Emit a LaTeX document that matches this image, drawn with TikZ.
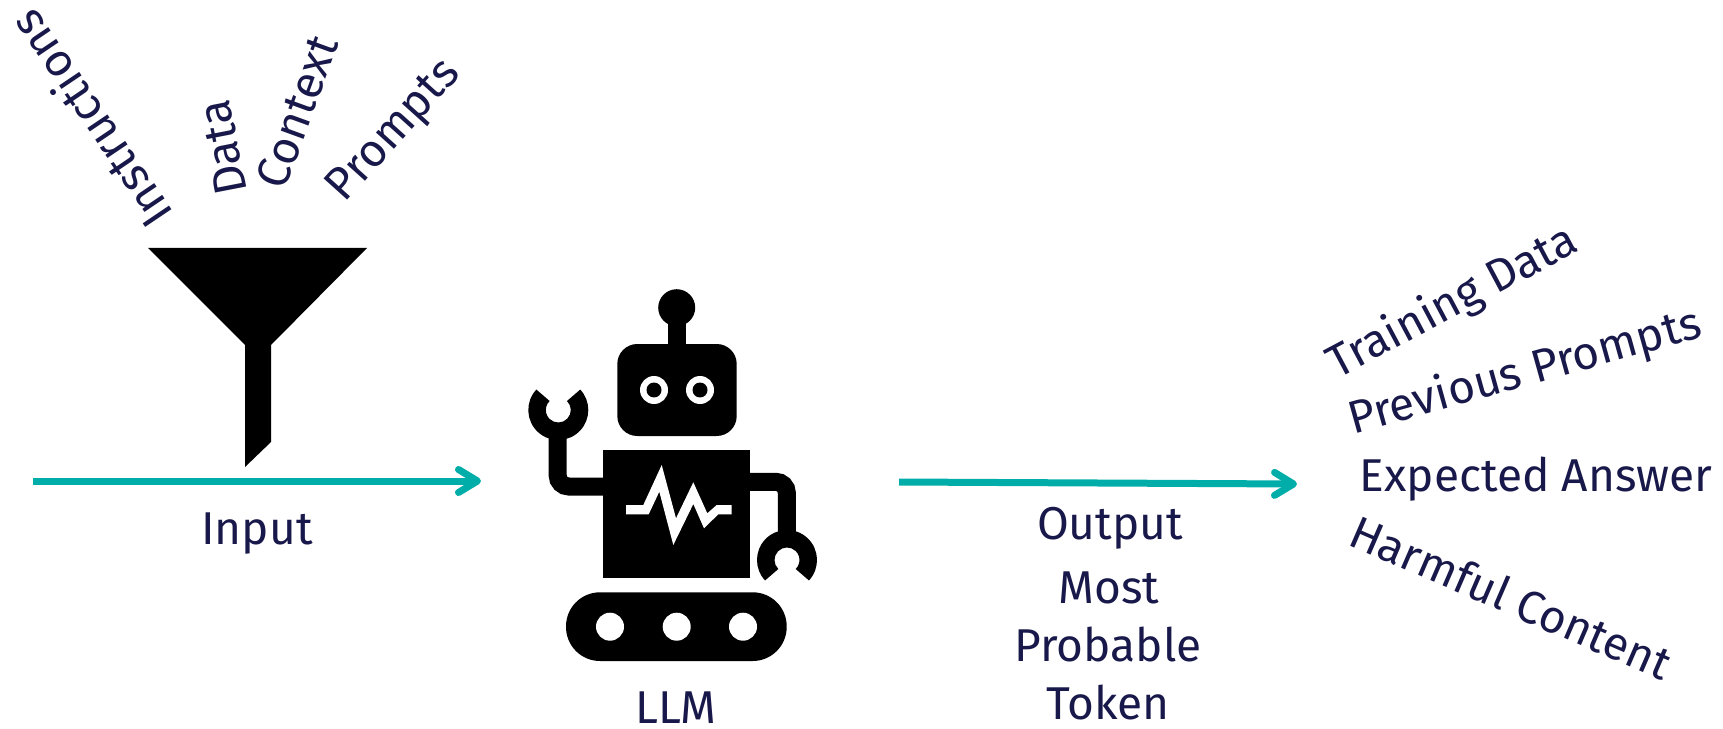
\documentclass[tikz,border=0pt]{standalone}
\usepackage{fontspec}
\setmainfont{Fira Sans}
\definecolor{llmnavy}{RGB}{24,24,74}
\definecolor{llmteal}{RGB}{0,173,168}
\usetikzlibrary{arrows.meta,positioning}

\begin{document}
\begin{tikzpicture}[
  x=0.02cm,y=-0.02cm,
  llmlabel/.style={font=\fontsize{26.2}{30}\selectfont,text=llmnavy,inner sep=0pt},
  llmarrow/.style={-{Straight Barb[length=0.38cm,width=0.46cm,round]},line width=0.14cm,llmteal},
  llmeye/.pic={
    \fill[white] (0,0) circle[radius=0.28cm];
    \fill[black] (0,0) circle[radius=0.15cm];},
  llmgrip/.pic={
    \fill[black] (137:0.6cm) arc[start angle=137,end angle=403,radius=0.6cm]
      -- (46:0.25cm) arc[start angle=46,end angle=-226,radius=0.25cm] -- cycle;}
]
  \useasboundingbox (0,0) rectangle (1723,729);
  % Funnel (left)
  \fill[black] (148,248) -- (367,248) -- (271,345) -- (271,442) -- (245,467) -- (245,345) -- cycle;
  % Words going in
  \node[llmlabel,rotate=124] (instructions) at (90,120) {Instructions};
  \node[llmlabel,rotate=101] (data) at (223,148) {Data};
  \node[llmlabel,rotate=70] (context) at (297,112) {Context};
  \node[llmlabel,rotate=48] (prompts) at (395,132) {Prompts};
  % Input arrow
  \coordinate (inputstart) at (33,481);
  \coordinate (inputend) at (481,481);
  \draw[llmarrow] (inputstart) -- (inputend);
  \node[llmlabel] (input) at (257,534) {Input};
  % Robot (center)
  \fill[black] (676.7,307.7) circle[radius=0.37cm];
  \fill[black] (667.7,320) rectangle (685.7,350);
  \fill[black,rounded corners=0.4cm] (617.3,344) rectangle (736.7,436);
  \pic at (654,390) {llmeye};
  \pic at (700,390) {llmeye};
  \fill[black] (603.3,450) rectangle (750.3,578.3);
  \fill[white] (626,505) -- (643.3,505) -- (661.7,465) -- (676,518.3) -- (693.3,482.3) -- (707.3,513.3)
    -- (716.7,505) -- (731.7,505) -- (731.7,514.3) -- (718.3,514.3) -- (704,528.3) -- (693.3,504)
    -- (673.3,545) -- (659.3,491.7) -- (648.7,514.3) -- (626,514.3) -- cycle;
  \draw[black,line width=0.36cm,rounded corners=0.22cm] (557.7,425) -- (557.7,486.5) -- (610,486.5);
  \draw[black,line width=0.36cm,rounded corners=0.22cm] (745,481.8) -- (786.8,481.8) -- (786.8,540);
  \pic at (558.3,410) {llmgrip};
  \pic[rotate=180] at (787,560) {llmgrip};
  \fill[black,rounded corners=0.68cm] (566,592.3) rectangle (786.7,661);
  \foreach \wheelx in {610,676.7,743}
    \fill[white] (\wheelx,626.7) circle[radius=0.28cm];
  \node[llmlabel] (llm) at (676,708) {LLM};
  % Output arrow
  \coordinate (outputstart) at (899,482);
  \coordinate (outputend) at (1297,484);
  \draw[llmarrow] (outputstart) -- (outputend);
  \node[llmlabel] (output) at (1110,528) {Output};
  \node[llmlabel] (most) at (1109,588) {Most};
  \node[llmlabel] (probable) at (1108,645) {Probable};
  \node[llmlabel] (token) at (1108,703) {Token};
  % Words coming out
  \node[llmlabel,rotate=28] (training) at (1453,303) {Training Data};
  \node[llmlabel,rotate=15.6] (previous) at (1525,373) {Previous Prompts};
  \node[llmlabel] (expected) at (1536,479) {Expected Answer};
  \node[llmlabel,rotate=-23.4] (harmful) at (1511,597) {Harmful Content};
\end{tikzpicture}
\end{document}
